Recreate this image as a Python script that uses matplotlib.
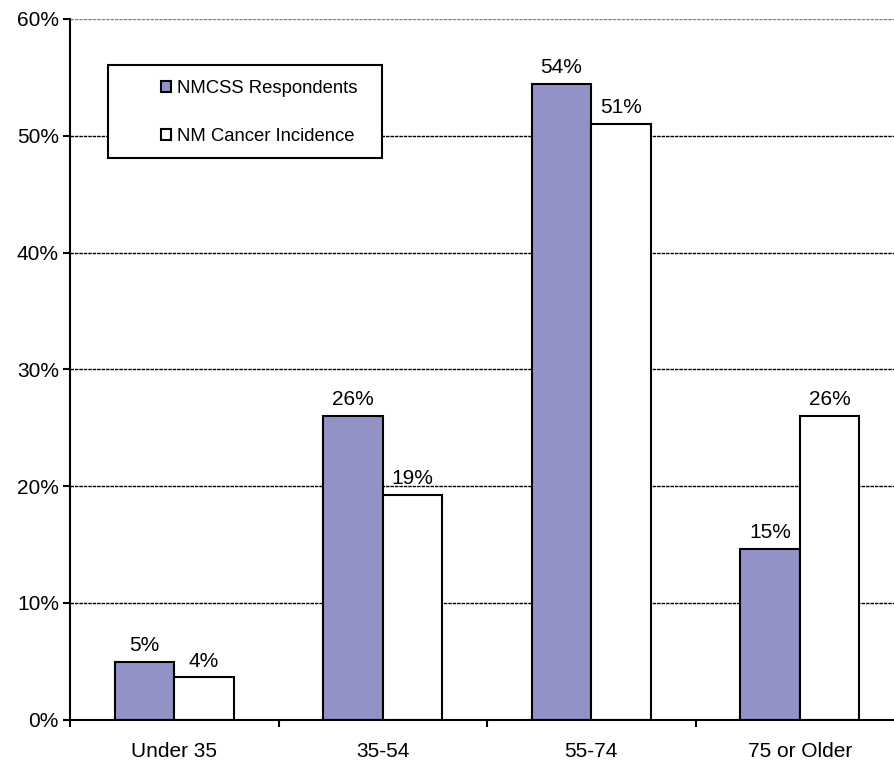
import matplotlib
matplotlib.use("Agg")
import matplotlib.pyplot as plt
from matplotlib.patches import Patch, Rectangle
import numpy as np

plt.rcParams['font.family'] = ['Liberation Sans', 'DejaVu Sans']

# Age distribution (percent)
categories = ["Under 35", "35-54", "55-74", "75 or Older"]
series_names = ["NMCSS Respondents", "NM Cancer Incidence"]
respondents = [4.9, 26.0, 54.4, 14.6]
incidence = [3.6, 19.2, 51.0, 26.0]
y_ticks = [0, 10, 20, 30, 40, 50, 60]

fill_colors = ["#9392C6", "#FFFFFF"]

W, H, DPI = 894, 764, 100
fig = plt.figure(figsize=(W / DPI, H / DPI), dpi=DPI)
# plot area (pixel edges): left 70, right 904, top 19, bottom 719.5
ax = fig.add_axes([70 / W, 1 - 719.5 / H, 834 / W, (719.5 - 19) / H])

x = np.arange(len(categories))
bw = 0.286
for vals, color, off, name in [(respondents, fill_colors[0], -bw / 2, series_names[0]),
                                (incidence, fill_colors[1], bw / 2, series_names[1])]:
    bars = ax.bar(x + off, vals, width=bw, color=color, edgecolor="black",
                  linewidth=1.5, zorder=3, label=name)
    for b, v in zip(bars, vals):
        ax.annotate(f"{v:.0f}%", (b.get_x() + b.get_width() / 2, v),
                    xytext=(0, 5), textcoords="offset points",
                    ha="center", va="bottom", fontsize=15, zorder=4)

ax.set_xlim(-0.5, 3.5)
ax.set_ylim(0, 60)

# horizontal gridlines
for t in y_ticks[1:]:
    ax.axhline(t, color="#808080" if t == 60 else "black",
               linewidth=1.0, linestyle=(0, (2.5, 0.7)), zorder=1)

ax.set_yticks(y_ticks)
ax.set_yticklabels([f"{t}%" for t in y_ticks], fontsize=15)
ax.tick_params(axis="y", direction="out", length=5, width=1.5, pad=3)

ax.set_xticks(np.arange(-0.5, 3.6, 1.0))
ax.set_xticklabels([])
ax.set_xticks(x, minor=True)
ax.set_xticklabels(categories, minor=True, fontsize=15)
ax.tick_params(axis="x", which="major", direction="out", length=5, width=1.5)
ax.tick_params(axis="x", which="minor", length=0, pad=16)

for s in ["top", "right"]:
    ax.spines[s].set_visible(False)
for s in ["left", "bottom"]:
    ax.spines[s].set_linewidth(1.5)
    ax.spines[s].set_zorder(5)

# legend box
box = Rectangle(((108 - 70) / 834, (719.5 - 158) / 700.5), 274 / 834, 93 / 700.5,
                transform=ax.transAxes, facecolor="white", edgecolor="black",
                linewidth=1.5, zorder=6)
ax.add_patch(box)
handles = [Patch(facecolor=c, edgecolor="black", linewidth=1.5) for c in fill_colors]
leg = ax.legend(handles, series_names, loc="center left",
                bbox_to_anchor=((161 - 70) / 834, (719.5 - 112.4) / 700.5),
                frameon=False, fontsize=13.3, borderpad=0, borderaxespad=0,
                handlelength=0.55, handleheight=0.55, handletextpad=0.3,
                labelspacing=1.65)
leg.set_zorder(7)

fig.savefig("out.png", dpi=DPI)
